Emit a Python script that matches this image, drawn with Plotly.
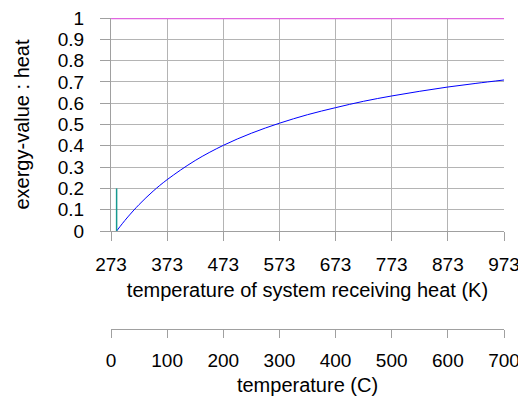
import plotly.graph_objects as go

# Data
temp_k = [283, 293, 303, 323, 348, 373, 423, 473, 523, 573, 623, 673, 723, 773, 823, 873, 923, 973]
exergy_ratio = [0.0, 0.034, 0.066, 0.124, 0.187, 0.241, 0.331, 0.402, 0.459, 0.506,
                0.546, 0.579, 0.609, 0.634, 0.656, 0.676, 0.693, 0.709]
upper_k = [273, 973]
upper_ratio = [1, 1]
ambient_k = [283, 283]
ambient_ratio = [0, 0.2]

k_ticks = [273, 373, 473, 573, 673, 773, 873, 973]
c_ticks = [0, 100, 200, 300, 400, 500, 600, 700]
y_ticks = [0, 0.1, 0.2, 0.3, 0.4, 0.5, 0.6, 0.7, 0.8, 0.9, 1]
y_labels = ["0", "0.1", "0.2", "0.3", "0.4", "0.5", "0.6", "0.7", "0.8", "0.9", "1"]

FONT = "Liberation Sans, Arial, sans-serif"
GRID = "#b4b4b4"
AXIS = "#a0a0a0"
TICK_SIZE = 19
TITLE_SIZE = 20

fig = go.Figure()
fig.add_trace(go.Scatter(x=upper_k, y=upper_ratio, mode="lines",
                         line=dict(color="#e066e0", width=2.5), showlegend=False, hoverinfo="skip"))
fig.add_trace(go.Scatter(x=temp_k, y=exergy_ratio, mode="lines", line_shape="spline",
                         line=dict(color="#0000ff", width=1), showlegend=False))
fig.add_trace(go.Scatter(x=ambient_k, y=ambient_ratio, mode="lines",
                         line=dict(color="#179a90", width=1.5), showlegend=False))
fig.add_trace(go.Scatter(x=[c_ticks[0], c_ticks[-1]], y=[None, None], xaxis="x2",
                         mode="lines", showlegend=False, hoverinfo="skip"))

# page body has an 8px margin, so figure coordinates = page coordinates - 8
OFF = 8
W, H = 526, 399
plot_left, plot_right, plot_top, plot_bottom = 111 - OFF, 504 - OFF, 18 - OFF, 231 - OFF
c_line = 329 - OFF
dom0 = (c_line - plot_bottom) / (c_line - plot_top)

fig.update_layout(
    width=W, height=H,
    margin=dict(l=plot_left, r=W - plot_right, t=plot_top, b=H - c_line, autoexpand=False),
    paper_bgcolor="white", plot_bgcolor="white",
    font=dict(family=FONT, size=TICK_SIZE, color="black"),
    xaxis=dict(range=[273, 973], tickvals=k_ticks, ticktext=[str(v) for v in k_ticks],
               showgrid=True, gridcolor=GRID, gridwidth=1, zeroline=False,
               showline=True, linecolor=AXIS, linewidth=1,
               ticks="outside", ticklen=9, tickcolor=AXIS, ticklabelstandoff=7,
               tickfont=dict(size=TICK_SIZE), ticklabeloverflow="allow",
               title=dict(text="temperature of system receiving heat (K)",
                          font=dict(size=TITLE_SIZE), standoff=9),
               automargin=False, anchor="y"),
    xaxis2=dict(range=[0, 700], tickvals=c_ticks, overlaying="x", anchor="free", position=0,
                side="bottom", showgrid=False, zeroline=False,
                showline=True, linecolor=AXIS, linewidth=1,
                ticks="outside", ticklen=8, tickcolor=AXIS, ticklabelstandoff=6,
                tickfont=dict(size=TICK_SIZE), ticklabeloverflow="allow",
                title=dict(text="temperature (C)", font=dict(size=TITLE_SIZE), standoff=8),
                automargin=False),
    yaxis=dict(range=[0, 1], domain=[dom0, 1], tickvals=y_ticks, ticktext=y_labels,
               showgrid=True, gridcolor=GRID, gridwidth=1, zeroline=False,
               showline=True, linecolor=AXIS, linewidth=1,
               ticks="outside", ticklen=10, tickcolor=AXIS, ticklabelstandoff=12,
               tickfont=dict(size=TICK_SIZE), ticklabeloverflow="allow",
               title=dict(text="exergy-value : heat", font=dict(size=TITLE_SIZE), standoff=22),
               automargin=False),
)

fig.write_html("out.html")
